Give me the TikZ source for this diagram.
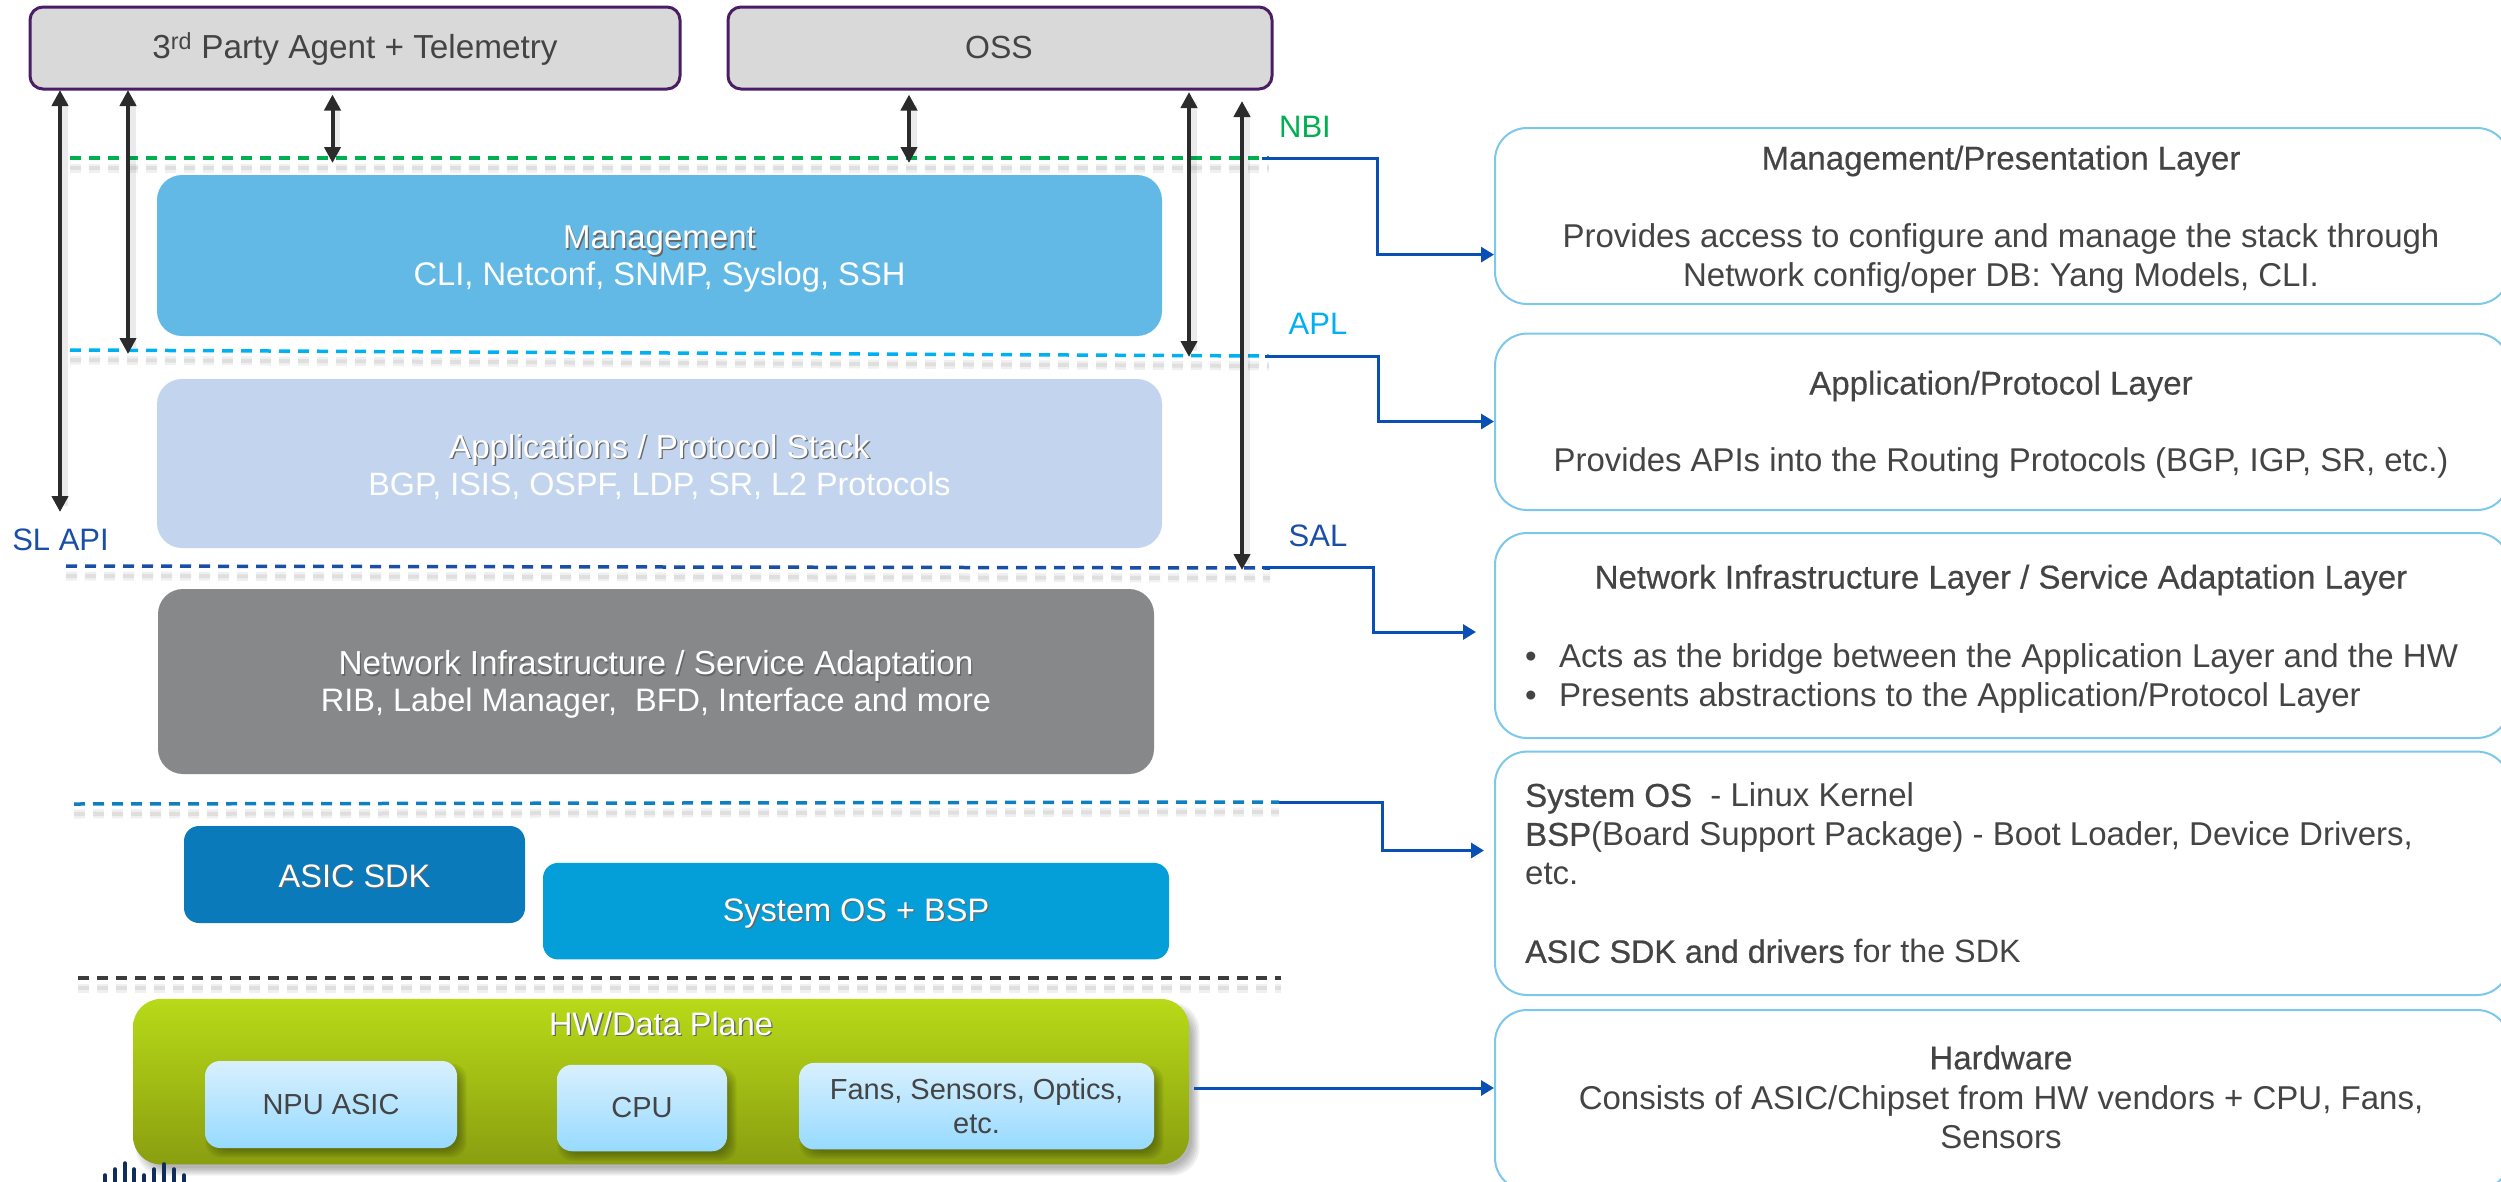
\documentclass[tikz,border=0pt]{standalone}
\usepackage{fontspec}
\setmainfont{Liberation Sans}
\newfontface\semi[FakeBold=0.35]{Liberation Sans}
\newfontface\firm[FakeBold=0.7]{Liberation Sans}
\usetikzlibrary{arrows.meta,calc}
\definecolor{purp}{HTML}{4B1D66}
\definecolor{txt}{HTML}{444444}
\definecolor{dark}{HTML}{2B2B2B}
\definecolor{conn}{HTML}{0A4FB5}
\definecolor{sky}{HTML}{7CC8EA}
\definecolor{dashgreen}{HTML}{00B050}
\definecolor{dashsky}{HTML}{00B0F0}
\definecolor{dashnavy}{HTML}{1A4FA8}
\definecolor{dashmid}{HTML}{0F7FC0}
\definecolor{dashgrey}{HTML}{3C3C3C}
\definecolor{navy}{HTML}{0F2D5A}
\definecolor{txtshade}{HTML}{666666}
\definecolor{chiptop}{HTML}{D8F0FE}
\definecolor{chipbot}{HTML}{97DAFF}
\definecolor{mgmtc}{HTML}{62B9E5}
\definecolor{appc}{HTML}{C3D5EE}
\definecolor{nic}{HTML}{87888A}
\definecolor{asicc}{HTML}{0A7ABB}
\definecolor{sysc}{HTML}{049FD9}
\definecolor{hwtop}{HTML}{B8DA18}
\definecolor{hwbot}{HTML}{8A9E10}
\newcommand{\shd}[1]{\leavevmode\rlap{\raisebox{-1.3pt}{\kern1.3pt\textcolor{txtshade}{#1}}}#1}
\newcommand{\fsz}[2]{\fontsize{#1}{#2}\selectfont}
% soft shadow: x1 y1 x2 y2 radius
\newcommand{\softshade}[5]{%
  \foreach \g in {0,1.5,3,4.5,6,7.5}{%
    \fill[black,opacity=.055,rounded corners=#5pt] (#1-\g,#2-\g) rectangle (#3+\g,#4+\g);}}
\tikzset{
  layer/.style={rounded corners=25pt,inner sep=0pt},
  stacktext/.style={inner sep=0pt,align=center,text=white,font=\fsz{32.5}{37}},
  topbox/.style={rounded corners=13pt,inner sep=0pt,draw=purp,line width=3pt,fill=black!15},
  topcap/.style={inner sep=0pt,text=txt,font=\fsz{32}{37}},
  desc/.style={rounded corners=32pt,inner sep=0pt,draw=sky,line width=2pt,fill=white},
  chip/.style={rounded corners=15pt,inner sep=0pt,align=center,text=txt,top color=chiptop,bottom color=chipbot,font=\fsz{29}{34}},
  body/.style={inner sep=0pt,text=txt,font=\fsz{33}{39}},
  tag/.style={inner sep=0pt,font=\fsz{31}{37}},
  twoway/.style={draw=dark,line width=4pt,{Triangle[length=16pt,width=16pt]}-{Triangle[length=16pt,width=16pt]}},
  arrowshade/.style={draw=black,opacity=.08,line width=9pt},
  link/.style={draw=conn,line width=3pt,-{Triangle[length=13pt,width=15pt]}},
  plane/.style={line width=3.5pt,dash pattern=on 11pt off 8pt},
  planeshade/.style={line width=9pt,dash pattern=on 11pt off 8pt,draw=black,opacity=.06},
  planeshadein/.style={line width=4pt,dash pattern=on 11pt off 8pt,draw=black,opacity=.07},
  bar/.style={draw=navy,line width=3.6pt,line cap=round}
}
\begin{document}
\begin{tikzpicture}[x=1pt,y=-1pt]
\clip (0,0) rectangle (2501,1181);
% end points
\coordinate (gL) at (70,158); \coordinate (gR) at (1269,158);
\coordinate (aL) at (70,350); \coordinate (aR) at (1269,356);
\coordinate (sL) at (66,566); \coordinate (sR) at (1270,568);
\coordinate (oL) at (74,804); \coordinate (oR) at (1279,802);
\coordinate (kL) at (78,978); \coordinate (kR) at (1281,978);
\coordinate (t1) at (1494,254.6);
\coordinate (t2) at (1494,421.5);
\coordinate (t3) at (1476,632);
\coordinate (t4) at (1484,850.5);
\coordinate (t5) at (1494,1088);
\coordinate (h5) at (1194,1088);
\coordinate (nbiS) at (1262,158);
\coordinate (aplS) at (1265,356.5);
\coordinate (salS) at (1262,567);
\coordinate (osS) at (1279,802);
\coordinate (a1a) at (60,90);   \coordinate (a1b) at (60,512);
\coordinate (a2a) at (128,90);  \coordinate (a2b) at (128,354);
\coordinate (a3a) at (332.5,94.5); \coordinate (a3b) at (332.5,163);
\coordinate (a4a) at (909,94.5);   \coordinate (a4b) at (909,163);
\coordinate (a5a) at (1189,92); \coordinate (a5b) at (1189,357);
\coordinate (a6a) at (1242,101); \coordinate (a6b) at (1242,570);

% plane shadows
\foreach \pa/\pb in {gL/gR,aL/aR,sL/sR,oL/oR,kL/kR}{
  \draw[planeshade] ($(\pa)+(0,10)$) -- ($(\pb)+(0,10)$);
  \draw[planeshadein] ($(\pa)+(0,10)$) -- ($(\pb)+(0,10)$);
}

% planes
\draw[plane,draw=dashgreen] (gL) -- (gR);
\draw[plane,draw=dashsky] (aL) -- (aR);
\draw[plane,draw=dashnavy] (sL) -- (sR);
\draw[plane,draw=dashmid] (oL) -- (oR);
\draw[plane,draw=dashgrey] (kL) -- (kR);

% top boxes
\node[topbox,minimum width=650pt,minimum height=82pt] (agent) at (355,48) {};
\node[topcap,font=\fsz{33.3}{37}] (agentt) at ($(agent.center)+(0,1)$) {3\textsuperscript{rd} Party Agent + Telemetry};
\node[topbox,minimum width=544pt,minimum height=82pt] (oss) at (1000,48) {};
\node[topcap] (osst) at ($(oss.center)+(-1,-1)$) {OSS};

% stack
\node[layer,fill=mgmtc,minimum width=1005pt,minimum height=161pt] (mgmt) at (659.5,255.5) {};
\node[stacktext] (mgmtt) at ($(mgmt.center)+(0,4)$) {\fsz{33}{37}\shd{Management}\\\fsz{32.7}{37}CLI, Netconf, SNMP, Syslog, SSH};
\node[layer,fill=appc,minimum width=1005pt,minimum height=169pt] (apps) at (659.5,463.5) {};
\node[stacktext] (appst) at ($(apps.center)+(0,3.5)$) {\fsz{33.2}{37}\shd{Applications / Protocol Stack}\\\fsz{32.3}{37}BGP, ISIS, OSPF, LDP, SR, L2 Protocols};
\node[layer,fill=nic,minimum width=996pt,minimum height=185pt] (ni) at (656,681.5) {};
\node[stacktext] (nit) at ($(ni.center)+(0,3)$) {\fsz{33.3}{37}\shd{Network Infrastructure / Service Adaptation}\\\fsz{32.5}{37}RIB, Label Manager,\ \ BFD, Interface and more};
\node[layer,rounded corners=15pt,fill=asicc,minimum width=341pt,minimum height=97pt] (asic) at (354.5,874.5) {};
\node[stacktext] (asict) at ($(asic.center)+(0,2)$) {\shd{ASIC SDK}};
\node[layer,rounded corners=15pt,fill=sysc,minimum width=626pt,minimum height=96.5pt] (sys) at (856,911.2) {};
\node[stacktext] (syst) at ($(sys.center)+(0,3)$) {\shd{System OS + BSP}};
\softshade{143}{1010}{1192}{1168}{28}
\node[rounded corners=28pt,inner sep=0pt,top color=hwtop,bottom color=hwbot,minimum width=1056pt,minimum height=165.5pt] (hw) at (661,1081.7) {};
\node[stacktext] (hwt) at (661,1024.6) {\shd{HW/Data Plane}};
\softshade{213}{1071}{459}{1150}{15}
\softshade{565}{1075}{729}{1153.5}{15}
\softshade{807}{1073}{1156}{1151.5}{15}
\node[chip,minimum width=252pt,minimum height=87pt] (npu) at (331,1104.5) {NPU ASIC};
\node[chip,minimum width=170pt,minimum height=86.5pt] (cpu) at (642,1108) {CPU};
\node[chip,minimum width=355pt,minimum height=86.5pt] (fans) at (976.5,1106.2) {Fans, Sensors, Optics,\\etc.};

% logo
\foreach \bx/\by in {105/1175,115/1169,125/1163,134/1169,144/1175,154/1169,164/1164,174/1169,184/1175}
  \draw[bar] (\bx,\by) -- (\bx,1190);

% description boxes
\node[desc,minimum width=1014pt,minimum height=176pt] (d1) at (2002,216) {};
\node[desc,minimum width=1014pt,minimum height=176.4pt] (d2) at (2002,421.8) {};
\node[desc,minimum width=1014pt,minimum height=205pt] (d3) at (2002,635.5) {};
\node[desc,minimum width=1014pt,minimum height=243.4pt] (d4) at (2002,873.3) {};
\node[desc,minimum width=1014pt,minimum height=180pt] (d5) at (2002,1100) {};

% description text
\node[body] (d1t) at (2001,161) {\semi Management/Presentation Layer};
\node[body,align=center] (d1b) at (2001,258.5) {Provides access to configure and manage the stack through\\Network config/oper DB: Yang Models, CLI.};
\node[body] (d2t) at (2001,386) {\semi Application/Protocol Layer};
\node[body,font=\fsz{32.9}{39}] (d2b) at (2001,463) {Provides APIs into the Routing Protocols (BGP, IGP, SR, etc.)};
\node[body] (d3t) at (2001,580) {\semi Network Infrastructure Layer / Service Adaptation Layer};
\node[body,align=left,anchor=west] (d3b) at (1525,678.5) {\makebox[34pt][l]{•}Acts as the bridge between the Application Layer and the HW\\\makebox[34pt][l]{•}Presents abstractions to the Application/Protocol Layer};
\node[body,align=left,anchor=west] (d4b) at (1525,873) {{\firm System OS}\ \ - Linux Kernel\\{\firm BSP}(Board Support Package) - Boot Loader, Device Drivers,\\etc.\\[39pt]\fsz{32.3}{39}{\firm ASIC SDK and drivers} for the SDK};
\node[body] (d5t) at (2001,1057.5) {\semi Hardware};
\node[body,align=center] (d5b) at (2001,1117) {Consists of ASIC/Chipset from HW vendors + CPU, Fans,\\Sensors};

% tags
\node[tag,text=dashgreen] (nbi) at (1305,127) {NBI};
\node[tag,text=dashsky] (apl) at (1318,323.5) {APL};
\node[tag,text=dashnavy] (sal) at (1318,536) {SAL};
\node[tag,text=dashnavy] (slapi) at (60.5,540) {SL API};

% links
\draw[link] (nbiS) -- ++(115,0) |- (t1);
\draw[link] (aplS) -- ++(113.4,0) |- (t2);
\draw[link] (salS) -- ++(111,0) |- (t3);
\draw[link] (osS) -- ++(103,0) |- (t4);
\draw[link] (h5) -- (t5);

% two-way arrows
\foreach \ta/\tb in {a1a/a1b,a2a/a2b,a3a/a3b,a4a/a4b,a5a/a5b,a6a/a6b}{
  \draw[arrowshade] ($(\ta)+(3,10)$) -- ($(\tb)+(3,-6)$);
  \draw[twoway] (\ta) -- (\tb);
}
\end{tikzpicture}
\end{document}
